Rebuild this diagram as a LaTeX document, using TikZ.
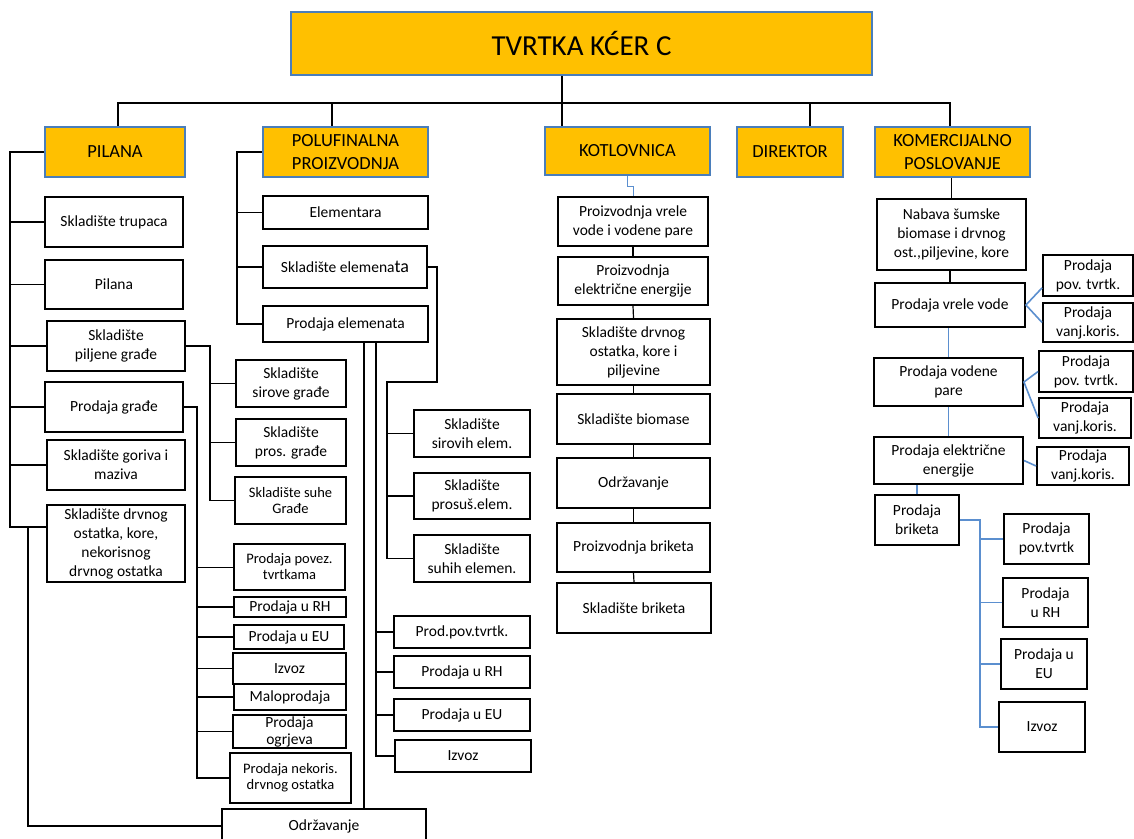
\documentclass[tikz,border=0pt]{standalone}
\usepackage{fontspec}
\setmainfont{Carlito}
\definecolor{hdrfill}{HTML}{FFC000}
\definecolor{hdrline}{HTML}{4A7EBB}
\definecolor{linkblue}{HTML}{5B8FCF}
\tikzset{
  box/.style={draw=black, line width=1.8pt, align=center, inner sep=1pt, font=\fontsize{15.5}{19}\selectfont},
  smallbox/.style={box, font=\fontsize{14.5}{16}\selectfont},
  hdr/.style={draw=hdrline, line width=2.8pt, fill=hdrfill, align=center, inner sep=1pt, font=\fontsize{18.5}{23}\selectfont},
  link/.style={line width=1.8pt, black},
  bluelink/.style={line width=1.6pt, linkblue},
}
\begin{document}
\begin{tikzpicture}[x=1pt, y=-1pt]
\path [use as bounding box, fill=white] (0,0) rectangle (1134,838);

\node [hdr, minimum width=581pt, minimum height=63pt, font=\fontsize{29}{34}\selectfont] (title) at (581.5,43.5) {TVRTKA KĆER C};
\node [hdr, minimum width=140pt, minimum height=50pt] (pilana) at (115,152) {PILANA};
\node [hdr, minimum width=165pt, minimum height=50pt] (poluf) at (345.5,152) {POLUFINALNA\\PROIZVODNJA};
\node [hdr, minimum width=165pt, minimum height=48pt] (kotl) at (627.5,151) {KOTLOVNICA};
\node [hdr, minimum width=106pt, minimum height=50pt] (direktor) at (790,152) {DIREKTOR};
\node [hdr, minimum width=155pt, minimum height=50pt] (komerc) at (952.5,152) {KOMERCIJALNO\\POSLOVANJE};

\coordinate (busW) at (118,103);
\coordinate (busP) at (332,103);
\coordinate (busK) at (562,103);
\coordinate (busD) at (810,103);
\coordinate (busE) at (950,103);
\draw [link] (pilana.north -| busW) -- (busW) -- (busE) -- (komerc.north -| busE);
\draw [link] (busP) -- (poluf.north -| busP);
\draw [link] (title.south -| busK) -- (kotl.north -| busK);
\draw [link] (busD) -- (direktor.north -| busD);

% pilana
\node [box, minimum width=138pt, minimum height=50pt] (trupaca) at (114,222) {Skladište trupaca};
\node [box, minimum width=138pt, minimum height=49pt] (pilanab) at (114,284.5) {Pilana};
\node [box, minimum width=138pt, minimum height=50pt] (piljene) at (116,346) {Skladište\\piljene građe};
\node [box, minimum width=138pt, minimum height=50pt] (prodgr) at (114,407) {Prodaja građe};
\node [box, minimum width=138pt, minimum height=50pt] (goriva) at (116,465) {Skladište goriva i\\maziva};
\node [box, minimum width=138pt, minimum height=77pt] (ostatak) at (116,543.5) {Skladište drvnog\\ostatka, kore,\\nekorisnog\\drvnog ostatka};

\node [box, minimum width=110pt, minimum height=47pt] (sirove) at (291,383.5) {Skladište\\sirove građe};
\node [box, minimum width=110pt, minimum height=47pt] (prosg) at (291,442.5) {Skladište\\pros. građe};
\node [smallbox, minimum width=111pt, minimum height=47pt] (suhe) at (290.5,500.5) {Skladište suhe\\Građe};

\node [smallbox, minimum width=111pt, minimum height=46pt] (povez) at (289.5,567) {Prodaja povez.\\tvrtkama};
\node [box, minimum width=112pt, minimum height=20pt, inner ysep=0pt] (rhG) at (290,607) {Prodaja u RH};
\node [box, minimum width=110pt, minimum height=24pt, inner ysep=0pt] (euG) at (289,637) {Prodaja u EU};
\node [box, minimum width=113pt, minimum height=31pt] (izvozG) at (289.5,668.5) {Izvoz};
\node [box, minimum width=112pt, minimum height=26pt, inner ysep=0pt] (malo) at (290,697) {Maloprodaja};
\node [box, minimum width=113pt, minimum height=33pt, inner ysep=0pt, font=\fontsize{15.5}{17}\selectfont] (ogrjev) at (289.5,731.5) {Prodaja\\ogrjeva};
\node [smallbox, minimum width=121pt, minimum height=50pt] (nekoris) at (290.5,778) {Prodaja nekoris.\\drvnog ostatka};

\node [box, minimum width=204pt, minimum height=34pt] (odrz) at (324,826) {Održavanje};

\coordinate (pilL) at (10,527);
\draw [link] (pilana.west) -| (pilL) -- (pilL -| ostatak.west);
\foreach \n in {trupaca,pilanab,piljene,prodgr,goriva}
  \draw [link] (\n.west) -- (\n.west -| pilL);
\coordinate (odrL) at (28,527);
\draw [link] (odrL) |- (odrz.west);

\coordinate (grX) at (210,0);
\draw [link] (piljene.east) -| (grX |- suhe.west) -- (suhe.west);
\foreach \n in {sirove,prosg}
  \draw [link] (\n.west) -- (\n.west -| grX);

\coordinate (pgX) at (197,0);
\draw [link] (prodgr.east) -| (pgX |- nekoris.west) -- (nekoris.west);
\draw [line width=0.8pt] (povez.west) -- (povez.west -| pgX);
\foreach \n in {rhG,euG,izvozG,malo,ogrjev}
  \draw [link] (\n.west) -- (\n.west -| pgX);

% polufinalna proizvodnja
\node [box, minimum width=165pt, minimum height=33pt] (elem) at (345.5,212.5) {Elementara};
\node [box, minimum width=164pt, minimum height=42pt] (skelem) at (345,267) {Skladište elemena{\fontsize{18}{19}\selectfont ta}};
\node [box, minimum width=165pt, minimum height=36pt] (prodel) at (345.5,324) {Prodaja elemenata};

\node [box, minimum width=116pt, minimum height=47pt] (sirovih) at (472,433.5) {Skladište\\sirovih elem.};
\node [box, minimum width=116pt, minimum height=46pt] (prosus) at (472,496) {Skladište\\prosuš.elem.};
\node [box, minimum width=116pt, minimum height=47pt] (suhih) at (472,558.5) {Skladište\\suhih elemen.};

\node [box, minimum width=136pt, minimum height=32pt] (prodpov) at (462,632) {Prod.pov.tvrtk.};
\node [box, minimum width=136pt, minimum height=32pt] (rhE) at (462,672) {Prodaja u RH};
\node [box, minimum width=136pt, minimum height=32pt] (euE) at (462,715) {Prodaja u EU};
\node [box, minimum width=136pt, minimum height=32pt] (izvozE) at (463,756) {Izvoz};

\coordinate (poX) at (237,0);
\draw [link] (poluf.west) -| (poX |- prodel.west) -- (prodel.west);
\foreach \n in {elem,skelem}
  \draw [link] (\n.west) -- (\n.west -| poX);

\coordinate (elR) at (437,382);
\coordinate (elL) at (387,382);
\draw [link] (skelem.east) -| (elR) -- (elL) |- (suhih.west);
\foreach \n in {sirovih,prosus}
  \draw [link] (\n.west) -- (\n.west -| elL);

\coordinate (peA) at (364,0);
\coordinate (peB) at (376,0);
\draw [link] (prodel.south -| peA) -- (odrz.north -| peA);
\draw [link] (prodel.south -| peB) |- (izvozE.west);
\foreach \n in {prodpov,rhE,euE}
  \draw [link] (\n.west) -- (\n.west -| peB);

% kotlovnica
\node [box, minimum width=150pt, minimum height=49pt] (kvrele) at (633,221.5) {Proizvodnja vrele\\vode i vodene pare};
\node [box, minimum width=150pt, minimum height=48pt] (kelek) at (633,281) {Proizvodnja\\električne energije};
\node [box, minimum width=153pt, minimum height=66pt] (kost) at (633.5,352) {Skladište drvnog\\ostatka, kore i\\piljevine};
\node [box, minimum width=153pt, minimum height=50pt] (kbio) at (633.5,419) {Skladište biomase};
\node [box, minimum width=153pt, minimum height=50pt] (kodr) at (633.5,483) {Održavanje};
\node [box, minimum width=153pt, minimum height=49pt] (kbrik) at (633.5,547.5) {Proizvodnja briketa};
\node [box, minimum width=154pt, minimum height=50pt] (kskbr) at (634,608) {Skladište briketa};

\draw [bluelink, line width=1pt] (kotl.south) -- ++(0,10) -| (kvrele.north);
\foreach \a/\b in {kvrele/kelek,kelek/kost,kost/kbio,kbio/kodr,kodr/kbrik,kbrik/kskbr}
  \draw [line width=1.2pt] (\a.south) -- (\b.north);

% komercijalno poslovanje
\node [box, minimum width=149pt, minimum height=71pt] (nabava) at (951.5,234.5) {Nabava šumske\\biomase i drvnog\\ost.,piljevine, kore};
\node [box, minimum width=150pt, minimum height=44pt] (pvv) at (950,305) {Prodaja vrele vode};
\node [box, minimum width=149pt, minimum height=48pt] (pvp) at (948.5,382) {Prodaja vodene\\pare};
\node [box, minimum width=149pt, minimum height=47pt] (pee) at (948.5,460.5) {Prodaja električne\\energije};
\node [box, minimum width=84pt, minimum height=50pt] (pbr) at (917,520) {Prodaja\\briketa};

\node [box, minimum width=90pt, minimum height=41pt] (povVode) at (1088,275.5) {Prodaja\\pov. tvrtk.};
\node [box, minimum width=90pt, minimum height=39pt] (vanjVode) at (1088,322.5) {Prodaja\\vanj.koris.};
\node [box, minimum width=94pt, minimum height=41pt] (povPare) at (1086,371.5) {Prodaja\\pov. tvrtk.};
\node [box, minimum width=92pt, minimum height=40pt] (vanjPare) at (1085,418) {Prodaja\\vanj.koris.};
\node [box, minimum width=92pt, minimum height=38pt] (vanjStruja) at (1083,466) {Prodaja\\vanj.koris.};

\node [box, minimum width=85pt, minimum height=50pt] (brPov) at (1046.5,539) {Prodaja\\pov.tvrtk};
\node [box, minimum width=85pt, minimum height=49pt] (brRH) at (1045.5,602.5) {Prodaja\\u RH};
\node [box, minimum width=86pt, minimum height=50pt] (brEU) at (1044,664) {Prodaja u\\EU};
\node [box, minimum width=86pt, minimum height=50pt] (brIzvoz) at (1042,727) {Izvoz};

\draw [link] (nabava.north) -- (nabava.north |- komerc.south);
\draw [link] (pvv.north) -- (pvv.north |- nabava.south);
\draw [bluelink] (pvp.north) -- (pvp.north |- pvv.south);
\draw [bluelink] (pee.north) -- (pee.north |- pvp.south);
\draw [bluelink] (pbr.north) -- (pbr.north |- pee.south);
\draw [bluelink] (povVode.195) -- (pvv.east) -- (vanjVode.west);
\draw [bluelink] (povPare.west) -- (pvp.east) -- (vanjPare.west);
\draw [bluelink] (pee.east) -- (vanjStruja.west);

\coordinate (brX) at (980,0);
\draw [bluelink, line width=2.4pt] (pbr.east) -| (brX |- brIzvoz.west) -- (brIzvoz.west);
\foreach \n in {brPov,brRH,brEU}
  \draw [bluelink] (\n.west) -- (\n.west -| brX);
\end{tikzpicture}
\end{document}
